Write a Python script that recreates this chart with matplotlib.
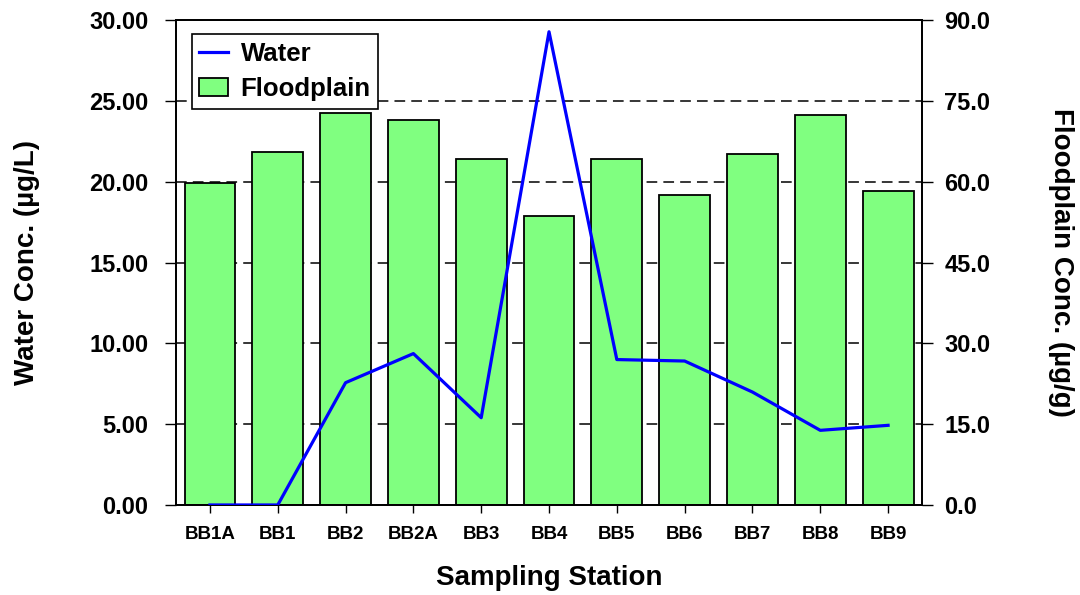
import numpy as np
import matplotlib.pyplot as plt

plt.rcParams['font.family'] = ['Liberation Sans', 'DejaVu Sans']
plt.rcParams['font.weight'] = 'bold'

stations = ['BB1A', 'BB1', 'BB2', 'BB2A', 'BB3', 'BB4', 'BB5', 'BB6', 'BB7', 'BB8', 'BB9']
water = [0.0, 0.0, 7.57, 9.37, 5.40, 29.29, 9.00, 8.91, 6.99, 4.62, 4.93]
floodplain = [59.8, 65.5, 72.7, 71.5, 64.3, 53.7, 64.3, 57.5, 65.2, 72.5, 58.3]

x = np.arange(len(stations))

fig = plt.figure(figsize=(10.8, 5.95), dpi=100)
ax = fig.add_axes([0.163, 0.1513, 0.6907, 0.8146])   # bars, right-hand scale
ax2 = ax.twinx()                                     # water line, left-hand scale

bars = ax.bar(x, floodplain, width=0.75, color='#80ff80', edgecolor='black',
              linewidth=1.3, label='Floodplain', zorder=2)
ax.set_ylim(0, 90)
ax.set_yticks(np.arange(0, 91, 15))
ax.set_yticklabels(['%.1f' % v for v in np.arange(0, 91, 15)])
ax.yaxis.tick_right()
ax.yaxis.set_label_position('right')
ax.grid(axis='y', color='black', linestyle=(0, (7, 4)), linewidth=1.1, zorder=0)
ax.set_axisbelow(True)

line, = ax2.plot(x, water, color='#0000ff', linewidth=2.3, label='Water', zorder=3)
ax2.set_ylim(0, 30)
ax2.set_yticks(np.arange(0, 31, 5))
ax2.set_yticklabels(['%.2f' % v for v in np.arange(0, 31, 5)])
ax2.yaxis.tick_left()
ax2.yaxis.set_label_position('left')

ax.set_xlim(-0.5, 10.5)
ax.set_xticks(x)
ax.set_xticklabels(stations, fontsize=13.5, fontweight='bold')

ax.tick_params(axis='y', direction='out', length=8, width=1, pad=8, labelsize=17)
ax2.tick_params(axis='y', direction='out', length=8, width=1, pad=12, labelsize=17)
ax.tick_params(axis='x', direction='out', length=6, width=1, pad=9)

for a in (ax, ax2):
    for s in a.spines.values():
        s.set_linewidth(1.3)

ax2.set_ylabel('Water Conc. (µg/L)', fontsize=20, fontweight='bold')
ax2.yaxis.set_label_coords(-0.182, 0.5)
ax.set_ylabel('Floodplain Conc. (µg/g)', fontsize=20, fontweight='bold', rotation=270,
              va='center')
ax.yaxis.set_label_coords(1.186, 0.5)
ax.set_xlabel('Sampling Station', fontsize=20, fontweight='bold', labelpad=16)

leg = ax2.legend([line, bars], ['Water', 'Floodplain'], loc='upper left',
                 bbox_to_anchor=(0.021, 0.972), fontsize=18.5, frameon=True,
                 fancybox=False, edgecolor='black', framealpha=1,
                 handlelength=1.1, handletextpad=0.5, borderpad=0.3,
                 labelspacing=0.45, borderaxespad=0)
leg.get_frame().set_linewidth(1.2)

fig.savefig('out.png', dpi=100)
